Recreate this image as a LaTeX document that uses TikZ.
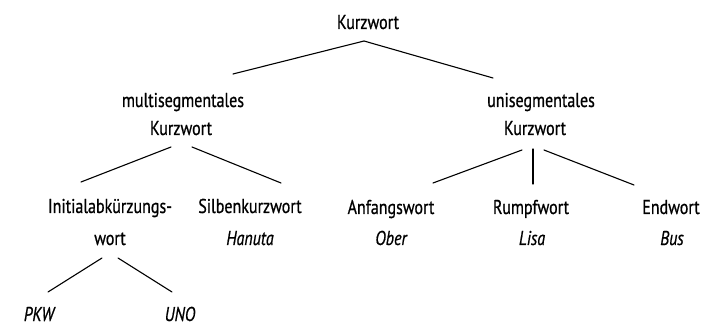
\documentclass[tikz,border=0pt]{standalone}
\usepackage{fontspec}
\setmainfont{PT Sans}[FakeStretch=0.8,FakeBold=0.7]
\begin{document}
\begin{tikzpicture}[x=1pt,y=-1pt,
  lbl/.style={anchor=base,inner sep=0pt,font=\fontsize{20}{24}\selectfont},
  ex/.style={lbl,font=\fontsize{20}{24}\selectfont\itshape},
  branch/.style={line width=1.1pt,line cap=round}]
\useasboundingbox (0,0) rectangle (711,328);
% tree labels
\node[lbl] (root) at (368,29) {Kurzwort};
\node[lbl] (multi1) at (183,107) {multisegmentales};
\node[lbl] (multi2) at (181,135) {Kurzwort};
\node[lbl] (uni1) at (541,107) {unisegmentales};
\node[lbl] (uni2) at (535,135) {Kurzwort};
\node[lbl] (init1) at (110,213) {Initialabkürzungs-};
\node[lbl] (init2) at (110,245) {wort};
\node[lbl] (silb) at (250,213) {Silbenkurzwort};
\node[ex] (hanuta) at (250,245) {Hanuta};
\node[lbl] (anf) at (391,214) {Anfangswort};
\node[ex] (ober) at (391,245) {Ober};
\node[lbl] (rumpf) at (531,214) {Rumpfwort};
\node[ex] (lisa) at (532,245) {Lisa};
\node[lbl] (end) at (671,214) {Endwort};
\node[ex] (bus) at (672,245) {Bus};
\node[ex] (pkw) at (39,321) {PKW};
\node[ex] (uno) at (180,321) {UNO};
% branch end points
\coordinate (r0) at (364,41);
\coordinate (ml) at (233,74);
\coordinate (ur) at (493,78);
\coordinate (m0l) at (171,147);
\coordinate (m0r) at (192,147);
\coordinate (il) at (81,182);
\coordinate (sl) at (281,183);
\coordinate (u0l) at (522,150);
\coordinate (u0m) at (533,149);
\coordinate (u0r) at (544,150);
\coordinate (al) at (433,183);
\coordinate (rl) at (533,184);
\coordinate (el) at (634,185);
\coordinate (w0l) at (102,258);
\coordinate (w0r) at (118,258);
\coordinate (pl) at (48,292);
\coordinate (ol) at (172,292);
% branches
\draw[branch] (ml) -- (r0) -- (ur);
\draw[branch] (m0l) -- (il);
\draw[branch] (m0r) -- (sl);
\draw[branch] (u0l) -- (al);
\draw[branch] (u0m) -- (rl);
\draw[branch] (u0r) -- (el);
\draw[branch] (w0l) -- (pl);
\draw[branch] (w0r) -- (ol);
\end{tikzpicture}
\end{document}
